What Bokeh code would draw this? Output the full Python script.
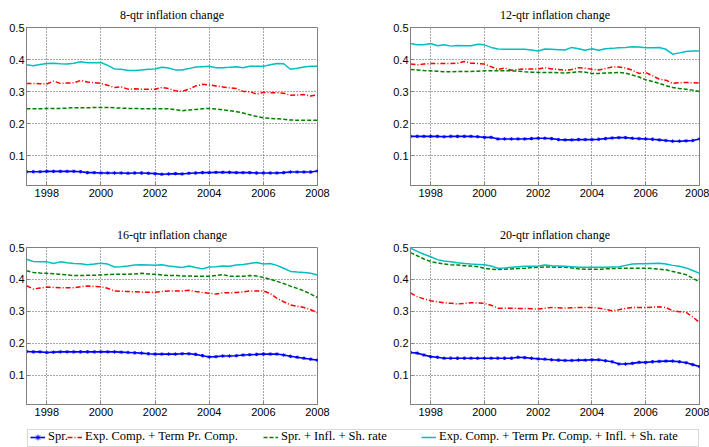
from bokeh.plotting import figure
from bokeh.models import (Range1d, FixedTicker, Title, Legend, LegendItem,
                          BoxAnnotation, ColumnDataSource)
from bokeh.layouts import column, row
from bokeh.embed import file_html
from bokeh.resources import INLINE

# ---------------- data (quarterly, 1997Q2 .. 2008Q1) ----------------
quarters = [1997.25 + 0.25 * i for i in range(44)]

titles = ["8-qtr inflation change", "12-qtr inflation change",
          "16-qtr inflation change", "20-qtr inflation change"]

series_labels = ["Spr.", "Exp. Comp. + Term Pr. Comp.",
                 "Spr. + Infl. + Sh. rate",
                 "Exp. Comp. + Term Pr. Comp. + Infl. + Sh. rate"]

x_ticks = [1998, 2000, 2002, 2004, 2006, 2008]
y_ticks = [0.1, 0.2, 0.3, 0.4, 0.5]

# 8-qtr
spr_8 = [.051,.051,.051,.052,.052,.052,.052,.052,.051,.048,.048,.047,.047,.047,.047,.046,.047,.047,.046,.045,.043,.044,.045,.044,.046,.047,.048,.048,.049,.049,.049,.048,.048,.048,.047,.047,.047,.047,.048,.050,.050,.050,.050,.053]
exp_8 = [.326,.326,.325,.324,.333,.326,.327,.328,.335,.330,.328,.326,.320,.313,.315,.308,.309,.308,.308,.308,.313,.310,.303,.301,.308,.318,.323,.321,.318,.315,.312,.310,.301,.300,.293,.298,.297,.297,.295,.289,.290,.291,.287,.290]
sis_8 = [.247,.247,.247,.248,.248,.248,.249,.250,.250,.250,.251,.251,.251,.250,.249,.248,.248,.247,.247,.247,.247,.247,.244,.241,.243,.245,.247,.248,.246,.244,.241,.238,.234,.228,.223,.219,.217,.216,.214,.212,.211,.211,.211,.211]
all_8 = [.384,.381,.385,.388,.389,.387,.386,.389,.393,.390,.390,.391,.382,.371,.370,.366,.366,.368,.370,.371,.376,.374,.368,.368,.372,.377,.378,.379,.375,.375,.376,.378,.375,.379,.379,.379,.384,.388,.387,.370,.373,.377,.379,.379]

# 12-qtr
spr_12 = [.161,.161,.161,.161,.161,.160,.161,.161,.161,.161,.160,.158,.158,.153,.153,.153,.153,.153,.154,.155,.155,.154,.151,.150,.150,.151,.151,.151,.152,.154,.156,.157,.157,.155,.154,.153,.152,.150,.148,.146,.146,.147,.148,.153]
exp_12 = [.386,.384,.386,.388,.388,.388,.388,.389,.394,.389,.388,.386,.378,.369,.374,.367,.369,.371,.371,.371,.375,.371,.369,.367,.369,.375,.373,.370,.368,.372,.377,.377,.374,.367,.357,.360,.350,.339,.336,.326,.328,.329,.328,.327]
sis_12 = [.369,.368,.366,.365,.364,.362,.362,.363,.363,.363,.364,.365,.365,.365,.365,.365,.364,.362,.361,.360,.360,.360,.359,.358,.360,.362,.361,.357,.357,.358,.359,.360,.358,.352,.346,.337,.332,.326,.319,.313,.310,.308,.305,.301]
all_12 = [.450,.446,.446,.450,.443,.446,.442,.444,.443,.443,.448,.446,.438,.433,.432,.432,.432,.432,.430,.427,.433,.432,.431,.430,.438,.434,.429,.434,.429,.434,.435,.437,.438,.440,.439,.437,.437,.438,.432,.417,.421,.425,.427,.427]

# 16-qtr
spr_16 = [.174,.173,.173,.171,.172,.173,.173,.173,.173,.173,.173,.173,.173,.173,.172,.171,.170,.169,.167,.166,.166,.166,.166,.167,.167,.165,.161,.157,.158,.160,.160,.161,.163,.164,.165,.166,.166,.166,.163,.159,.156,.153,.150,.147]
exp_16 = [.380,.370,.373,.376,.375,.374,.374,.374,.377,.379,.378,.377,.372,.364,.363,.362,.361,.360,.360,.360,.362,.364,.364,.364,.366,.362,.359,.357,.354,.358,.358,.359,.361,.364,.364,.364,.356,.341,.330,.320,.316,.312,.305,.296]
sis_16 = [.427,.422,.420,.419,.418,.416,.414,.412,.412,.413,.413,.414,.415,.416,.416,.416,.417,.419,.417,.416,.414,.412,.412,.411,.411,.410,.410,.410,.412,.415,.410,.410,.410,.412,.411,.406,.401,.394,.387,.379,.372,.364,.354,.343]
all_16 = [.463,.456,.455,.455,.450,.455,.452,.450,.449,.446,.448,.451,.448,.439,.440,.442,.445,.446,.445,.444,.446,.442,.440,.437,.442,.437,.433,.439,.440,.442,.441,.445,.447,.450,.453,.448,.450,.444,.435,.425,.423,.422,.419,.414]

# 20-qtr
spr_20 = [.171,.169,.163,.158,.156,.153,.153,.153,.153,.153,.153,.153,.153,.153,.153,.153,.156,.155,.153,.151,.150,.148,.147,.146,.146,.147,.147,.148,.148,.145,.142,.135,.135,.137,.140,.140,.142,.143,.144,.144,.142,.139,.133,.127]
exp_20 = [.358,.346,.339,.333,.330,.327,.325,.323,.325,.327,.326,.325,.319,.310,.310,.310,.309,.309,.308,.307,.310,.312,.311,.310,.311,.312,.312,.312,.310,.306,.302,.305,.309,.312,.312,.312,.313,.314,.312,.302,.299,.297,.282,.265]
sis_20 = [.484,.474,.464,.456,.452,.448,.446,.445,.443,.442,.440,.435,.432,.431,.432,.433,.434,.435,.437,.438,.439,.439,.438,.438,.436,.433,.432,.432,.432,.433,.434,.435,.435,.435,.435,.435,.434,.432,.430,.425,.420,.415,.404,.392]
all_20 = [.498,.488,.479,.471,.462,.458,.455,.452,.450,.448,.447,.446,.442,.435,.436,.438,.440,.441,.441,.442,.445,.443,.442,.441,.440,.438,.438,.438,.438,.438,.439,.440,.444,.448,.449,.449,.450,.451,.448,.444,.441,.436,.428,.419]

panels = [
    (titles[0], spr_8, exp_8, sis_8, all_8),
    (titles[1], spr_12, exp_12, sis_12, all_12),
    (titles[2], spr_16, exp_16, sis_16, all_16),
    (titles[3], spr_20, exp_20, sis_20, all_20),
]

# ---------------- styles ----------------
BLUE, RED, GREEN, CYAN = "#0000ff", "#ff0000", "#008000", "#00bfbf"
SERIF = "Liberation Serif"
SANS = "Liberation Sans"

def style_blue(p, src):
    r1 = p.line("x", "y", source=src, line_color=BLUE, line_width=1.6)
    r2 = p.scatter("x", "y", source=src, marker="asterisk", size=3.5,
                   line_color=BLUE, line_width=1)
    return [r1, r2]

def style_red(p, src):
    return [p.line("x", "y", source=src, line_color=RED, line_width=1.5,
                   line_dash="5 2 1 2")]

def style_green(p, src):
    return [p.line("x", "y", source=src, line_color=GREEN, line_width=1.5,
                   line_dash="4 2")]

def style_cyan(p, src):
    return [p.line("x", "y", source=src, line_color=CYAN, line_width=1.5)]

stylers = [style_blue, style_red, style_green, style_cyan]


def make_panel(title, series, left_col, top_row):
    width = 390 if left_col else 319
    bl, br = (26, 73) if left_col else (18, 10)
    if top_row:
        height, bt, bb = 216, 27, 31
    else:
        height, bt, bb = 206, 31, 18
    p = figure(width=width, height=height, output_backend="svg",
               toolbar_location=None,
               x_range=Range1d(1997.25, 2008), y_range=Range1d(0.008, 0.5),
               min_border_left=bl, min_border_right=br,
               min_border_top=bt, min_border_bottom=bb)
    p.title = Title(text=title, align="center", text_font=SERIF,
                    text_font_size="12px", text_font_style="normal",
                    text_color="#000000", standoff=11)
    for styler, ys in zip(stylers, series):
        src = ColumnDataSource(dict(x=quarters, y=ys))
        styler(p, src)
    p.xaxis.ticker = FixedTicker(ticks=x_ticks)
    p.yaxis.ticker = FixedTicker(ticks=y_ticks)
    for ax in (p.xaxis[0], p.yaxis[0]):
        ax.major_label_text_font = SANS
        ax.major_label_text_font_size = "11px"
        ax.major_label_text_color = "#000000"
        ax.axis_line_color = "#808080"
        ax.major_tick_in = 3
        ax.major_tick_out = 0
        ax.major_tick_line_color = "#808080"
        ax.minor_tick_line_color = None
    p.xaxis.major_label_standoff = 3
    p.yaxis.major_label_standoff = 2
    p.grid.grid_line_color = "#505050"
    p.grid.grid_line_dash = "1 2"
    p.grid.grid_line_width = 1
    p.outline_line_color = "#808080"
    p.outline_line_width = 1
    p.background_fill_color = "#ffffff"
    p.border_fill_color = "#ffffff"
    return p


p1 = make_panel(panels[0][0], panels[0][1:], True, True)
p2 = make_panel(panels[1][0], panels[1][1:], False, True)
p3 = make_panel(panels[2][0], panels[2][1:], True, False)
p4 = make_panel(panels[3][0], panels[3][1:], False, False)

# ---------------- legend strip ----------------
leg = figure(width=709, height=25, output_backend="svg", toolbar_location=None,
             x_range=Range1d(0, 709), y_range=Range1d(0, 25),
             min_border=0, min_border_left=0, min_border_right=0,
             min_border_top=0, min_border_bottom=0)
leg.axis.visible = False
leg.grid.visible = False
leg.outline_line_color = None
leg.add_layout(BoxAnnotation(left=27, right=698, bottom=1, top=18,
                             fill_color="#ffffff", fill_alpha=1,
                             line_color="#808080", line_width=1))

# legend-only renderers: a single point far outside the visible range
offscreen = ColumnDataSource(dict(x=[-1000.0], y=[-1000.0]))
legend_x = [30, 67, 263, 421]
for styler, label, lx in zip(stylers, series_labels, legend_x):
    rs = styler(leg, offscreen)
    lg = Legend(items=[LegendItem(label=label, renderers=rs)],
                location=(lx, 3), orientation="horizontal",
                padding=0, margin=0, spacing=0,
                glyph_width=15, glyph_height=14, label_height=14,
                label_standoff=3,
                border_line_color=None, background_fill_alpha=0,
                label_text_font=SERIF, label_text_font_size="12.5px",
                label_text_color="#000000")
    leg.add_layout(lg)

layout = column(row(p1, p2), row(p3, p4), leg)

open("out.html", "w").write(file_html(layout, INLINE))
